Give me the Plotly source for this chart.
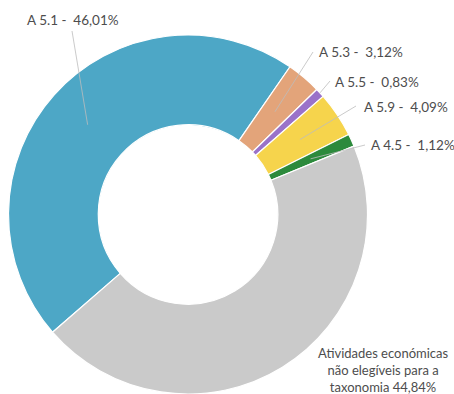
import math
import plotly.graph_objects as go

# Share of turnover by taxonomy activity (%)
categories = ["A 5.1", "A 5.3", "A 5.5", "A 5.9", "A 4.5",
              "Atividades económicas não elegíveis para a taxonomia"]
shares = [46.01, 3.12, 0.83, 4.09, 1.12, 44.84]
share_labels = ["46,01%", "3,12%", "0,83%", "4,09%", "1,12%", "44,84%"]
colors = ["#4DA7C6", "#E3A47A", "#9A72C9", "#F6D44C", "#2C8A3C", "#CACACA"]

W, H = 454, 394
START_DEG = 229          # clockwise from 12 o'clock, where the first slice begins
HOLE = 0.5

# pie domain (paper units)
dom_x = [8 / W, 368 / W]
dom_y = [0.0, 1 - 35 / H]

fig = go.Figure()
fig.add_trace(go.Pie(
    labels=categories,
    values=shares,
    sort=False,
    direction="clockwise",
    rotation=START_DEG,
    hole=HOLE,
    textinfo="none",
    hoverinfo="label+percent",
    marker=dict(colors=colors, line=dict(color="white", width=1.2)),
    domain=dict(x=dom_x, y=dom_y),
    showlegend=False,
))

# pixel geometry of the pie, derived from the domain
cx = (dom_x[0] + dom_x[1]) / 2 * W
half_w = (dom_x[1] - dom_x[0]) * W / 2
half_h = (dom_y[1] - dom_y[0]) * H / 2
R = min(half_w, half_h)
cy = H - (dom_y[0] + dom_y[1]) / 2 * H

total = sum(shares)
mid_angles = []
acc = 0.0
for v in shares:
    mid_angles.append(START_DEG + (acc + v / 2) / total * 360)
    acc += v


def slice_point(i, frac):
    a = math.radians(mid_angles[i])
    r = R * frac
    return cx + r * math.sin(a), cy - r * math.cos(a)


def to_paper(px, py):
    return px / W, 1 - py / H


font = dict(family="Lato, 'Open Sans', sans-serif", size=13.5, color="#4D4D4D")
font_small = dict(family="Lato, 'Open Sans', sans-serif", size=13, color="#4D4D4D")

# label text anchor (left edge, vertical centre) and leader-line start, in px
label_pos = [(25, 20), (317, 52), (333, 82), (362, 107), (369, 145)]
line_start = [(72, 31), (313, 52), (330, 81), (356, 106), (365, 145)]
line_depth = [0.75, 0.75, 1.0, 0.75, 0.75]

for i in range(5):
    tx, ty = label_pos[i]
    xp, yp = to_paper(tx, ty)
    fig.add_annotation(
        x=xp, y=yp, xref="paper", yref="paper",
        text=f"{categories[i]} -  {share_labels[i]}",
        showarrow=False, xanchor="left", yanchor="middle", font=font,
    )
    sx, sy = to_paper(*line_start[i])
    ex, ey = to_paper(*slice_point(i, line_depth[i]))
    fig.add_shape(
        type="line", xref="paper", yref="paper",
        x0=sx, y0=sy, x1=ex, y1=ey,
        line=dict(color="#BDBDBD", width=0.8),
    )

gx, gy = to_paper(383, 370)
fig.add_annotation(
    x=gx, y=gy, xref="paper", yref="paper",
    text="Atividades económicas<br>não elegíveis para a<br>taxonomia " + share_labels[5],
    showarrow=False, xanchor="center", yanchor="middle", align="center",
    font=font_small,
)

fig.update_layout(
    width=W, height=H,
    margin=dict(l=0, r=0, t=0, b=0),
    paper_bgcolor="white",
    plot_bgcolor="white",
)

fig.write_html("out.html")
